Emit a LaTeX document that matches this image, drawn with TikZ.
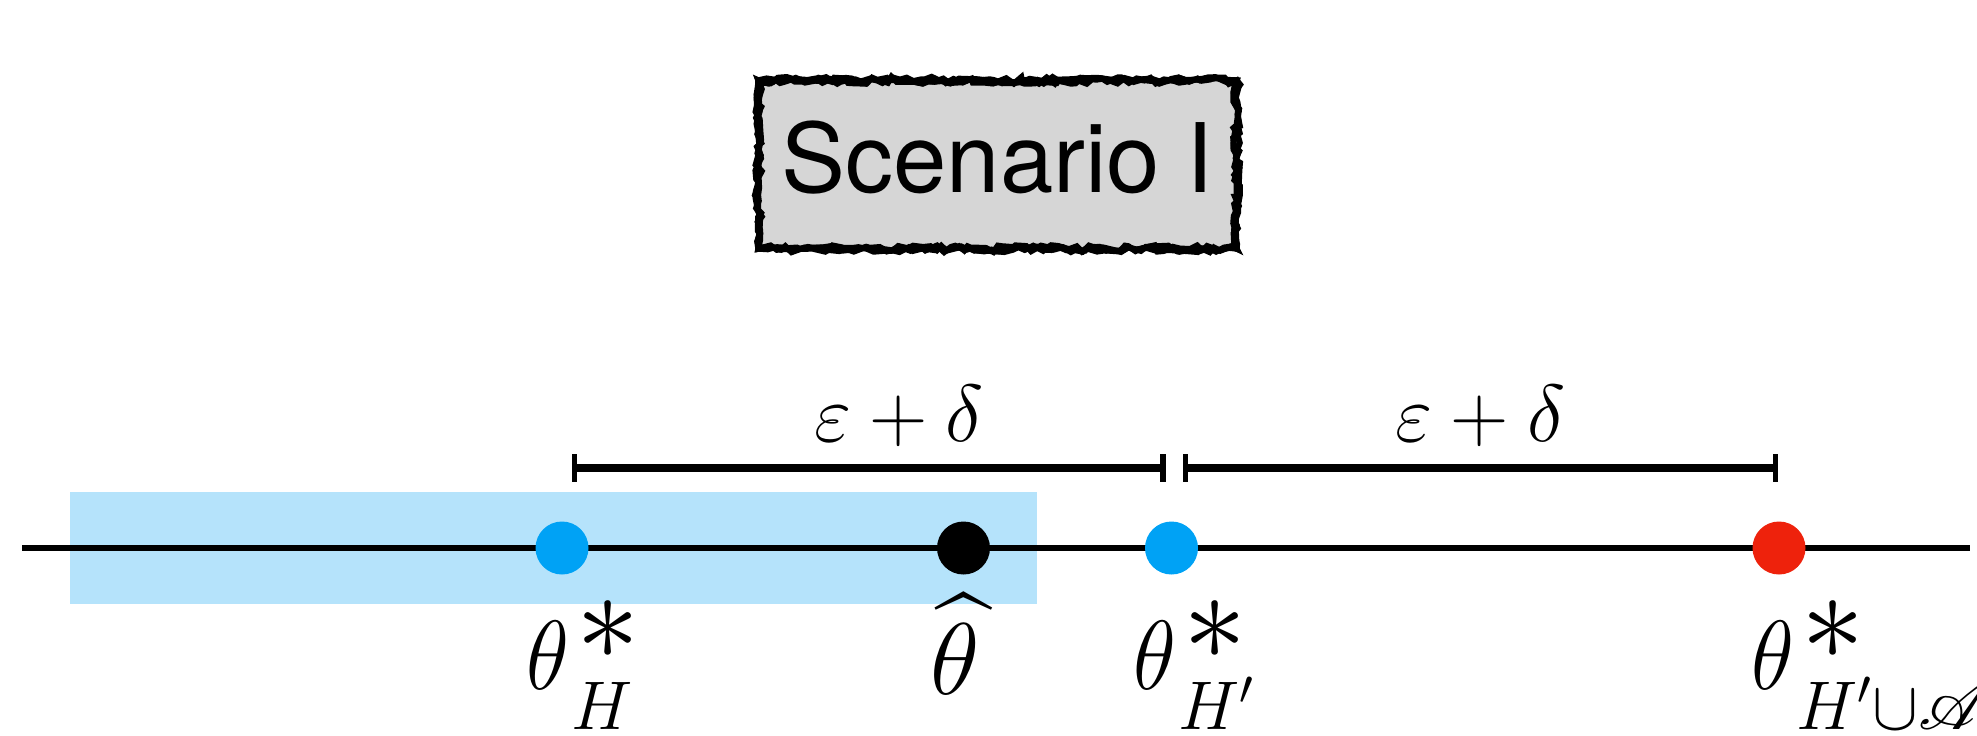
\RequirePackage{fix-cm}
\documentclass[tikz,border=0pt]{standalone}
\usepackage{amsmath,amssymb,mathrsfs}
\usepackage{fontspec}
\newfontfamily\headfont{TeX Gyre Heros}
\definecolor{zone}{HTML}{B5E3FB}
\definecolor{dotb}{HTML}{00A2F5}
\definecolor{dotr}{HTML}{EE220C}
\definecolor{cardg}{HTML}{D6D6D6}
\usetikzlibrary{arrows.meta,decorations.pathmorphing,calc}
% narrow theta with a big star and a lowered subscript
\newcommand{\thstar}[1]{\scalebox{0.9}[1]{$\theta$}^{\kern2pt\raisebox{-3.5pt}[0pt][0pt]{\fontsize{36}{36}\selectfont$*$}}_{\kern0.5pt\raisebox{-4.5pt}[0pt][0pt]{$\scriptstyle #1$}}}
\tikzset{
  pt/.style={circle,inner sep=0pt,minimum size=5.3mm},
  bpt/.style={pt,fill=dotb},
  card/.style={fill=cardg,minimum width=4.77cm,minimum height=1.67cm,inner sep=0pt,text height=16pt,text depth=0pt,font=\headfont\fontsize{27.3}{33}\selectfont},
  rough/.style={draw=black,line width=1.7pt,decorate,decoration={random steps,segment length=2pt,amplitude=1pt}},
  lab/.style={anchor=base west,inner sep=0pt,font=\fontsize{28}{34}\selectfont},
  dist/.style={anchor=base,inner sep=0pt,yshift=0.27cm,font=\fontsize{23}{28}\selectfont},
  gap/.style={{Bar[width=7.7pt,line width=1.5pt]}-{Bar[width=7.7pt,line width=1.5pt]},line width=2pt},
  axis/.style={line width=1.6pt},
}
\begin{document}
\begin{tikzpicture}
\useasboundingbox (0,0) rectangle (19.77,7.35);
% title card
\node[card] (title) at (9.975,5.705) {Scenario I};
\pgfmathsetseed{11}
\foreach \k in {1,2,3} \draw[rough] (title.south west) rectangle (title.north east);
% shaded region and axis
\fill[zone] (0.70,1.31) rectangle (10.37,2.43);
\coordinate (l) at (0.22,1.87); \coordinate (r) at (19.70,1.87);
\draw[axis] (l) -- (r);
\node[bpt] (tH) at (5.62,1.87) {};
\node[pt,fill=black] (th) at (9.635,1.87) {};
\node[bpt] (tHp) at (11.715,1.87) {};
\node[pt,fill=dotr] (tHA) at (17.79,1.87) {};
% distances
\coordinate (a1) at (5.72,2.67); \coordinate (a2) at (11.655,2.67);
\coordinate (b1) at (11.83,2.67); \coordinate (b2) at (17.78,2.67);
\draw[gap] (a1) -- node[midway,dist,xshift=0.30cm] (d1) {$\varepsilon+\delta$} (a2);
\draw[gap] (b1) -- node[midway,dist] (d2) {$\varepsilon+\delta$} (b2);
% labels
\node[lab] (xH) at (5.26,0.46) {$\thstar{H}$};
\node[lab,font=\fontsize{29}{34}\selectfont] (xh) at (9.30,0.41) {$\widehat{\theta}$};
\node[lab] (xHp) at (11.33,0.46) {$\thstar{H'}$};
\node[lab] (xHA) at (17.51,0.46) {$\thstar{H'\cup\mathscr{A}}$};
\end{tikzpicture}
\end{document}
